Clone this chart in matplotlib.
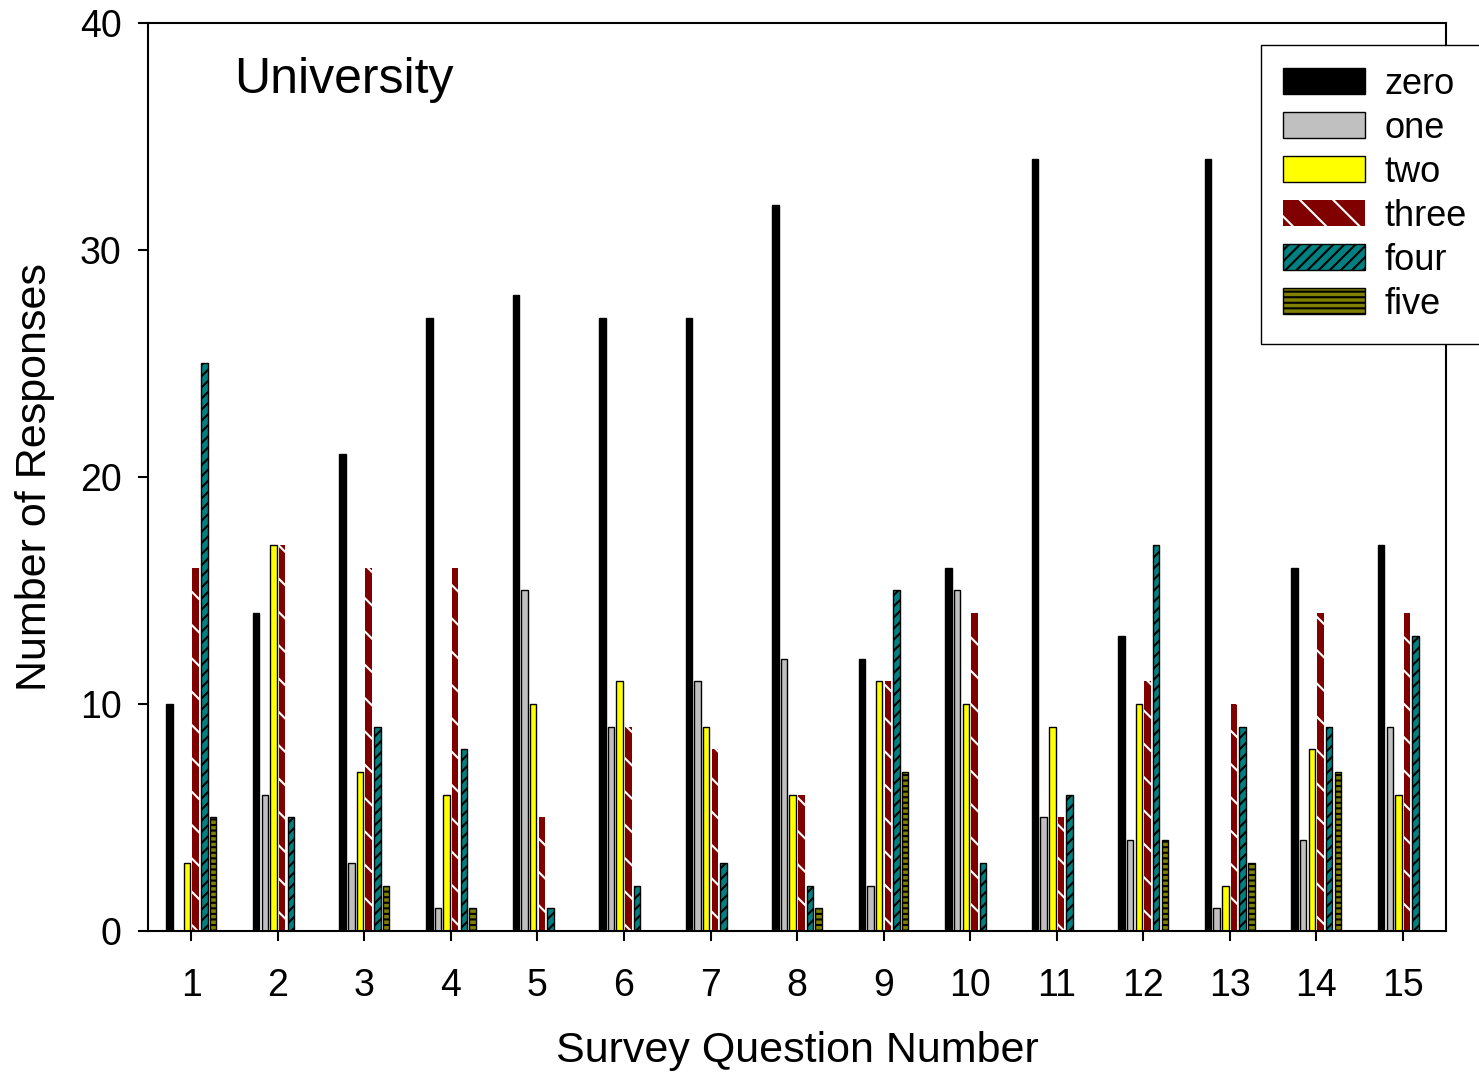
import numpy as np
import matplotlib
matplotlib.use("Agg")
import matplotlib.pyplot as plt

questions = np.arange(1, 16)
series_names = ["zero", "one", "two", "three", "four", "five"]
zero = [10, 14, 21, 27, 28, 27, 27, 32, 12, 16, 34, 13, 34, 16, 17]
one = [0, 6, 3, 1, 15, 9, 11, 12, 2, 15, 5, 4, 1, 4, 9]
two = [3, 17, 7, 6, 10, 11, 9, 6, 11, 10, 9, 10, 2, 8, 6]
three = [16, 17, 16, 16, 5, 9, 8, 6, 11, 14, 5, 11, 10, 14, 14]
four = [25, 5, 9, 8, 1, 2, 3, 2, 15, 3, 6, 17, 9, 9, 13]
five = [5, 0, 2, 1, 0, 0, 0, 1, 7, 0, 0, 4, 3, 7, 0]


def main():
    plt.rcParams["font.family"] = ["Liberation Sans", "DejaVu Sans"]
    plt.rcParams["hatch.linewidth"] = 1.5

    fig = plt.figure(figsize=(14.79, 10.75), dpi=100)
    ax = fig.add_axes([0.1001, 0.1340, 0.8776, 0.8446])

    data = [zero, one, two, three, four, five]
    faces = ["black", "#c0c0c0", "#ffff00", "#800000", "#008080", "#808000"]
    edges = ["black", "black", "black", "white", "black", "black"]
    hatches = [None, None, None, "\\", "///", "---"]
    lws = [1.0, 1.0, 1.0, 0.0, 1.0, 1.0]
    step = 0.1
    width = 0.075

    handles = []
    for i, vals in enumerate(data):
        off = (i - 2.5) * step
        b = ax.bar(questions + off, vals, width=width, color=faces[i],
                   edgecolor=edges[i], hatch=hatches[i], linewidth=lws[i],
                   label=series_names[i], zorder=2)
        handles.append(b)

    ax.set_xlim(0.5, 15.5)
    ax.set_ylim(0, 40)
    ax.set_xticks(questions)
    ax.set_yticks([0, 10, 20, 30, 40])
    for s in ax.spines.values():
        s.set_linewidth(1.5)
    ax.tick_params(axis="both", direction="out", length=7, width=1.5, labelsize=27)
    ax.tick_params(axis="x", pad=20)
    ax.tick_params(axis="y", pad=12)

    ax.set_xlabel("Survey Question Number", fontsize=31, labelpad=19)
    ax.set_ylabel("Number of Responses", fontsize=31, labelpad=18)
    ax.text(0.066, 0.937, "University", transform=ax.transAxes,
            fontsize=36, va="center", ha="left")

    leg = fig.legend(handles=handles, loc="upper left",
                     bbox_to_anchor=(0.8526, 0.9581), borderaxespad=0,
                     fontsize=26, handlelength=2.27, handleheight=0.72,
                     labelspacing=0.25, handletextpad=0.55, borderpad=0.6,
                     fancybox=False, framealpha=1, edgecolor="black")
    leg.get_frame().set_linewidth(1.0)

    fig.savefig("out.png", dpi=100)


if __name__ == "__main__":
    main()
